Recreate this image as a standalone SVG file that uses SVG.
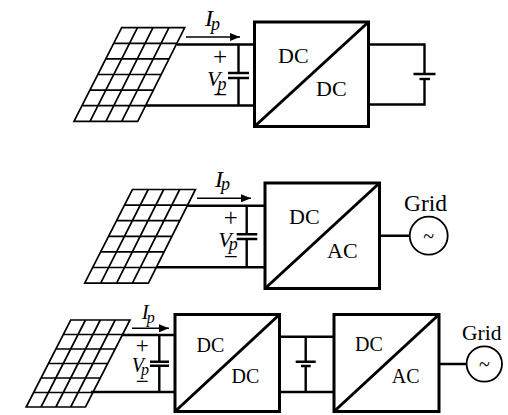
<svg xmlns="http://www.w3.org/2000/svg" width="508" height="415" viewBox="0 0 508 415">
<style>
text{font-family:"Liberation Serif","Times New Roman",serif;fill:#000}
.lbl{font-size:22px}
.sm{font-size:20px}
.i{font-style:italic;font-size:24px}
.v{font-style:italic;font-size:22px}
.p{font-size:18px}
.pm{font-size:25px;text-anchor:middle}
.grid{font-size:23.5px}
.g2{font-size:21.5px}
.t{font-size:20px;text-anchor:middle}
.box{fill:none;stroke:#000;stroke-width:3}
.cell{fill:none;stroke:#000;stroke-width:1.7}
.w{fill:none;stroke:#000;stroke-width:2.4}
.th{fill:none;stroke:#000;stroke-width:1.4}
.c{fill:#fff;stroke:#000;stroke-width:1.8}
</style>
<defs>
<marker id="ah" markerUnits="userSpaceOnUse" markerWidth="11" markerHeight="8" refX="10" refY="4" orient="auto"><path d="M0 0L10 4L0 8Z" fill="#000"/></marker>
<path id="panelA" class="cell" d="M47.7 0H110.7L63.7 93.6H0ZM39.8 15.6H102.8M31.9 31.2H95M24 46.8H87M16 62.4H79M8 78H71.5M63.5 0L16 93.6M79 0L31.9 93.6M95 0L47.7 93.6"/>
</defs>
<g id="connectors">
<path class="w" d="M177 44.5H255M146 105.5H255M238.5 44.5V73M238.5 78V105.5M369 44.5H424.5V74M424.5 79V104.5H369"/>
<path class="th" d="M186 37H240" marker-end="url(#ah)"/>
<path class="w" d="M228 73H249M228 78H249M413.5 74H435.5"/>
<path class="w" d="M419.5 79H430"/>
<path class="w" d="M187 205.7H266M157 267.3H266M246.7 205.7V234M246.7 239V267.3M380 235.7H409"/>
<path class="th" d="M197 198.3H251" marker-end="url(#ah)"/>
<path class="w" d="M236.7 234.3H257.3M236.7 239H257.3"/>
<path class="w" d="M122 335H175M91 392H175M159.3 335V361.7M159.3 365.7V392M279 336.7H334M279 392H334M305.7 336.7V361.7M305.7 366V392M439 364H466.7"/>
<path class="th" d="M132 328.3H169" marker-end="url(#ah)"/>
<path class="w" d="M150 361.7H169M150 365.7H169M295.7 361.7H315.7M301 366H310.7"/>
</g>
<g id="pv-panel-1"><use href="#panelA" x="74" y="27.7"/></g>
<g id="pv-panel-2"><use href="#panelA" x="84.7" y="189.5"/></g>
<g id="pv-panel-3"><path class="cell" d="M70.7 320H130L85.5 407H26.2ZM63.4 334.5H122.7M56 349H115.4M48.8 363.5H108.2M41 378H100.9M33.5 392.5H93.2M85.5 320L41 407M100.3 320L55.9 407M115.2 320L70.7 407"/></g>
<g id="converter-1">
<rect class="box" x="254.5" y="22" width="114" height="104.5"/>
<path class="box" d="M254.5 126.5L368.5 22"/>
<text class="lbl" x="278" y="63">DC</text>
<text class="lbl" x="316" y="96">DC</text>
</g>
<g id="converter-2">
<rect class="box" x="265" y="183" width="114.5" height="105.5"/>
<path class="box" d="M265 288.5L379.5 183"/>
<text class="lbl" x="289" y="224">DC</text>
<text class="lbl" x="327" y="258">AC</text>
</g>
<g id="converter-3">
<rect class="box" x="175" y="314.5" width="104.5" height="97"/>
<path class="box" d="M175 411.5L279.5 314.5"/>
<text class="sm" x="196.5" y="352">DC</text>
<text class="sm" x="231.5" y="383">DC</text>
</g>
<g id="converter-4">
<rect class="box" x="334" y="314.5" width="105" height="97"/>
<path class="box" d="M334 411.5L439 314.5"/>
<text class="sm" x="355" y="351">DC</text>
<text class="sm" x="391.7" y="382.5">AC</text>
</g>
<g id="grid-1">
<circle class="c" cx="428.7" cy="235.7" r="19"/>
<text class="grid" x="404" y="210.5">Grid</text>
<text class="t" x="428.7" y="243">~</text>
</g>
<g id="grid-2">
<circle class="c" cx="484.3" cy="364" r="17.7"/>
<text class="g2" x="462" y="340">Grid</text>
<text class="t" x="484.3" y="371">~</text>
</g>
<g id="labels-1">
<text class="i" x="205" y="26">I<tspan class="p" dy="3.5" dx="-2">p</tspan></text>
<text class="pm" x="220" y="64.5">+</text>
<text class="v" x="207" y="86">V<tspan class="p" dy="3.5" dx="-3">p</tspan></text>
<text class="pm" x="220" y="103">−</text>
</g>
<g id="labels-2">
<text class="i" x="215" y="186.5">I<tspan class="p" dy="3.5" dx="-2">p</tspan></text>
<text class="pm" x="230.7" y="225.7">+</text>
<text class="v" x="218.3" y="246.7">V<tspan class="p" dy="3.5" dx="-3">p</tspan></text>
<text class="pm" x="230.7" y="264.7">−</text>
</g>
<g id="labels-3">
<text class="i" style="font-size:21px" x="141.7" y="319">I<tspan class="p" style="font-size:16px" dy="3.5" dx="-2">p</tspan></text>
<text class="pm" style="font-size:23px" x="142.3" y="352.5">+</text>
<text class="v" style="font-size:20px" x="131.7" y="372.3">V<tspan class="p" style="font-size:16px" dy="2.5" dx="-3">p</tspan></text>
<text class="pm" style="font-size:23px" x="142.3" y="389">−</text>
</g>
</svg>
